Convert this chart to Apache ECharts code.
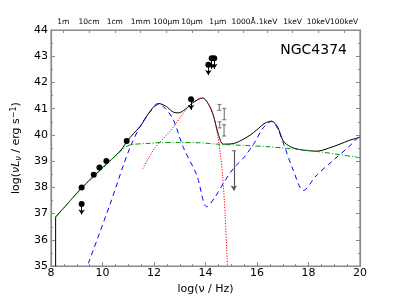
<!DOCTYPE html>
<html><head><meta charset="utf-8">
<script src="https://cdn.jsdelivr.net/npm/echarts@6/dist/echarts.min.js"></script>
<style>html,body{margin:0;padding:0;background:#fff}#c{width:400px;height:300px}</style>
</head><body><div id="c"></div>
<script>
// ---- data ----
var totalModel = [[8.18,36.88],[8.6,37.33],[9.13,37.92],[9.6,38.38],[10.16,38.9],[10.5,39.2],[10.78,39.5],[10.94,39.74],[11.2,40.05],[11.46,40.32],[11.84,40.89],[12.17,41.2],[12.45,41.1],[12.75,40.87],[12.95,40.84],[13.2,40.97],[13.5,41.22],[13.89,41.41],[14.1,41.2],[14.3,40.76],[14.5,40.02],[14.69,39.65],[15.08,39.67],[15.4,39.8],[15.73,39.99],[16.0,40.2],[16.31,40.45],[16.57,40.52],[16.8,40.3],[17.02,39.77],[17.3,39.55],[17.67,39.44],[18.0,39.4],[18.32,39.38],[18.8,39.5],[19.22,39.65],[19.6,39.8],[19.87,39.87],[20,39.92]];
var blueModel = [[9.45,35.1],[10.29,37.35],[10.81,38.84],[11.07,39.52],[11.46,40.33],[11.84,40.87],[12.17,41.16],[12.45,41.0],[12.75,40.58],[13.14,39.52],[13.66,38.47],[14.05,37.26],[14.35,37.6],[14.69,38.15],[15.08,38.72],[15.5,39.15],[15.9,39.7],[16.24,40.27],[16.57,40.52],[16.8,40.25],[17.02,39.7],[17.41,38.65],[17.8,37.88],[18.32,38.47],[18.96,39.03],[19.61,39.59],[19.87,39.85],[20,39.95]];
var redModel = [[11.56,38.71],[11.84,39.2],[12.04,39.52],[12.62,40.14],[13.14,40.83],[13.5,41.25],[13.89,41.41],[14.1,41.2],[14.3,40.76],[14.47,40.0],[14.59,39.15],[14.67,38.4],[14.76,37.0],[14.85,35.0]];
var greenModel = [[8.18,36.85],[9.13,37.9],[10.16,38.88],[10.78,39.45],[11.07,39.62],[11.84,39.68],[12.23,39.71],[13.0,39.71],[13.79,39.7],[14.43,39.65],[15.5,39.6],[16.44,39.55],[17.67,39.44],[18.5,39.35],[19.87,39.15],[20,39.13]];
var detX = [9.19, 9.66, 9.88, 10.15, 10.94];
var detY = [38.0, 38.48, 38.76, 39.01, 39.77];
var ulX = [9.19, 13.44, 14.11, 14.24, 14.34];
var ulY = [37.37, 41.36, 42.68, 42.92, 42.92];
var errX = [14.54, 14.73, 14.55, 14.72];
var errLo = [40.94, 40.58, 40.27, 39.96];
var errHi = [41.16, 41.01, 40.5, 40.39];
var greyUlX = [15.1];
var greyUlY = [39.4];
var greyUlTip = [37.88];
var topTickVals = [8.477, 9.477, 10.477, 11.477, 12.477, 13.477, 14.477, 15.477, 16.383, 17.383, 18.383, 19.383];
var topTickText = ['1m','10cm','1cm','1mm','100μm','10μm','1μm','1000Å','.1keV','1keV','10keV','100keV'];

// ---- chart ----
var chart = echarts.init(document.getElementById('c'), null, {renderer:'canvas'});
var F = 'DejaVu Sans';
var axisCol = '#8a8a8a';

var arrowLen = 0.4;
var ulLines = ulX.map(function(x,i){ return {coords:[[x, ulY[i]],[x, ulY[i]-arrowLen]]}; });
var greyUlLines = greyUlX.map(function(x,i){ return {coords:[[x, greyUlY[i]],[x, greyUlTip[i]]]}; });

var option = {
  animation:false,
  backgroundColor:'#fff',
  title:{text:'NGC4374', right:48, top:38, textStyle:{fontFamily:F, fontSize:14, fontWeight:'normal', color:'#000'}},
  grid:{left:51, right:40, top:30, bottom:29, show:true, borderColor:axisCol, borderWidth:1.2},
  xAxis:[{
    type:'value', min:8, max:20, interval:2, position:'bottom',
    name:'log(ν / Hz)', nameLocation:'middle', nameGap:13,
    nameTextStyle:{fontFamily:F, fontSize:11, color:'#000'},
    axisLine:{show:true, lineStyle:{color:axisCol, width:1.2}},
    axisTick:{show:true, inside:true, length:4, lineStyle:{color:axisCol}},
    minorTick:{show:true, splitNumber:4, length:2, lineStyle:{color:axisCol}},
    axisLabel:{fontFamily:F, fontSize:11, color:'#000', margin:2},
    splitLine:{show:false}
  },{
    type:'value', min:8, max:20, position:'top',
    axisLine:{show:true, lineStyle:{color:axisCol, width:1.2}},
    axisTick:{show:true, inside:true, length:3, customValues:topTickVals, lineStyle:{color:axisCol}},
    axisLabel:{show:true, customValues:topTickVals, fontFamily:F, fontSize:7.5, color:'#000', margin:4,
      formatter:function(v){ for (var i=0;i<topTickVals.length;i++){ if (Math.abs(topTickVals[i]-v)<1e-6) return topTickText[i]; } return ''; }},
    splitLine:{show:false}
  }],
  yAxis:[{
    type:'value', min:35, max:44, interval:1, position:'left',
    name:'{t|log(}{i|νL}{s|ν}{t| / erg s}{p|−1}{t|)}', nameLocation:'middle', nameGap:27, nameRotate:90,
    nameTextStyle:{fontFamily:F, fontSize:11, color:'#000', rich:{
      t:{fontFamily:F, fontSize:11, color:'#000'},
      i:{fontFamily:F, fontSize:11, fontStyle:'italic', color:'#000'},
      s:{fontFamily:F, fontSize:8, fontStyle:'italic', color:'#000', verticalAlign:'bottom', padding:[4,0,0,0]},
      p:{fontFamily:F, fontSize:8, color:'#000', verticalAlign:'top', padding:[0,0,5,0]}
    }},
    axisLine:{show:true, lineStyle:{color:axisCol, width:1.2}},
    axisTick:{show:true, inside:true, length:4, lineStyle:{color:axisCol}},
    minorTick:{show:true, splitNumber:2, length:2, lineStyle:{color:axisCol}},
    axisLabel:{fontFamily:F, fontSize:11, color:'#000', margin:3},
    splitLine:{show:false}
  },{
    type:'value', min:35, max:44, interval:1, position:'right',
    axisLine:{show:true, lineStyle:{color:axisCol, width:1.2}},
    axisTick:{show:true, inside:true, length:4, lineStyle:{color:axisCol}},
    minorTick:{show:true, splitNumber:2, length:2, lineStyle:{color:axisCol}},
    axisLabel:{show:false}, splitLine:{show:false}
  }],
  series:[
    {type:'line', name:'edge', data:[[totalModel[0][0],35],totalModel[0]], symbol:'none', lineStyle:{color:'#000', width:1}, z:3},
    {type:'line', name:'green', data:greenModel, smooth:0.3, symbol:'none', lineStyle:{color:'#009900', width:1, type:[5,2,1,2]}, z:4},
    {type:'line', name:'blue', data:blueModel, smooth:0.3, symbol:'none', lineStyle:{color:'#0000ff', width:1, type:[5,4]}, z:4},
    {type:'line', name:'red', data:redModel, smooth:0.3, symbol:'none', lineStyle:{color:'#ff0000', width:1, type:[1.2,1.5]}, z:4},
    {type:'line', name:'total', data:totalModel, smooth:0.3, symbol:'none', lineStyle:{color:'#000', width:1}, z:3},
    {type:'custom', name:'err', renderItem:function(params, api){
        var x = api.value(0), lo = api.value(1), hi = api.value(2);
        var a = api.coord([x, lo]), b = api.coord([x, hi]);
        var st = {stroke:'#808080', lineWidth:1.2};
        return {type:'group', children:[
          {type:'line', shape:{x1:a[0], y1:a[1], x2:b[0], y2:b[1]}, style:st},
          {type:'line', shape:{x1:a[0]-2, y1:a[1], x2:a[0]+2, y2:a[1]}, style:st},
          {type:'line', shape:{x1:b[0]-2, y1:b[1], x2:b[0]+2, y2:b[1]}, style:st}
        ]};
      }, data: errX.map(function(x,i){ return [x, errLo[i], errHi[i]]; }), z:5},
    {type:'custom', name:'greyCap', renderItem:function(params, api){
        var p = api.coord([api.value(0), api.value(1)]);
        return {type:'line', shape:{x1:p[0]-2, y1:p[1], x2:p[0]+2, y2:p[1]}, style:{stroke:'#808080', lineWidth:1.2}};
      }, data: greyUlX.map(function(x,i){ return [x, greyUlY[i]]; }), z:5},
    {type:'lines', coordinateSystem:'cartesian2d', data:greyUlLines, symbol:['none','arrow'], symbolSize:5, lineStyle:{color:'#555', width:1.2, opacity:1}, z:5},
    {type:'lines', coordinateSystem:'cartesian2d', data:ulLines, symbol:['none','arrow'], symbolSize:5, lineStyle:{color:'#000', width:1, opacity:1}, z:6},
    {type:'scatter', name:'ul', data:ulX.map(function(x,i){return [x, ulY[i]];}), symbol:'circle', symbolSize:6, itemStyle:{color:'#000', opacity:1}, z:7},
    {type:'scatter', name:'det', data:detX.map(function(x,i){return [x, detY[i]];}), symbol:'circle', symbolSize:6, itemStyle:{color:'#000', opacity:1}, z:7}
  ]
};
chart.setOption(option);
</script>
</body></html>
